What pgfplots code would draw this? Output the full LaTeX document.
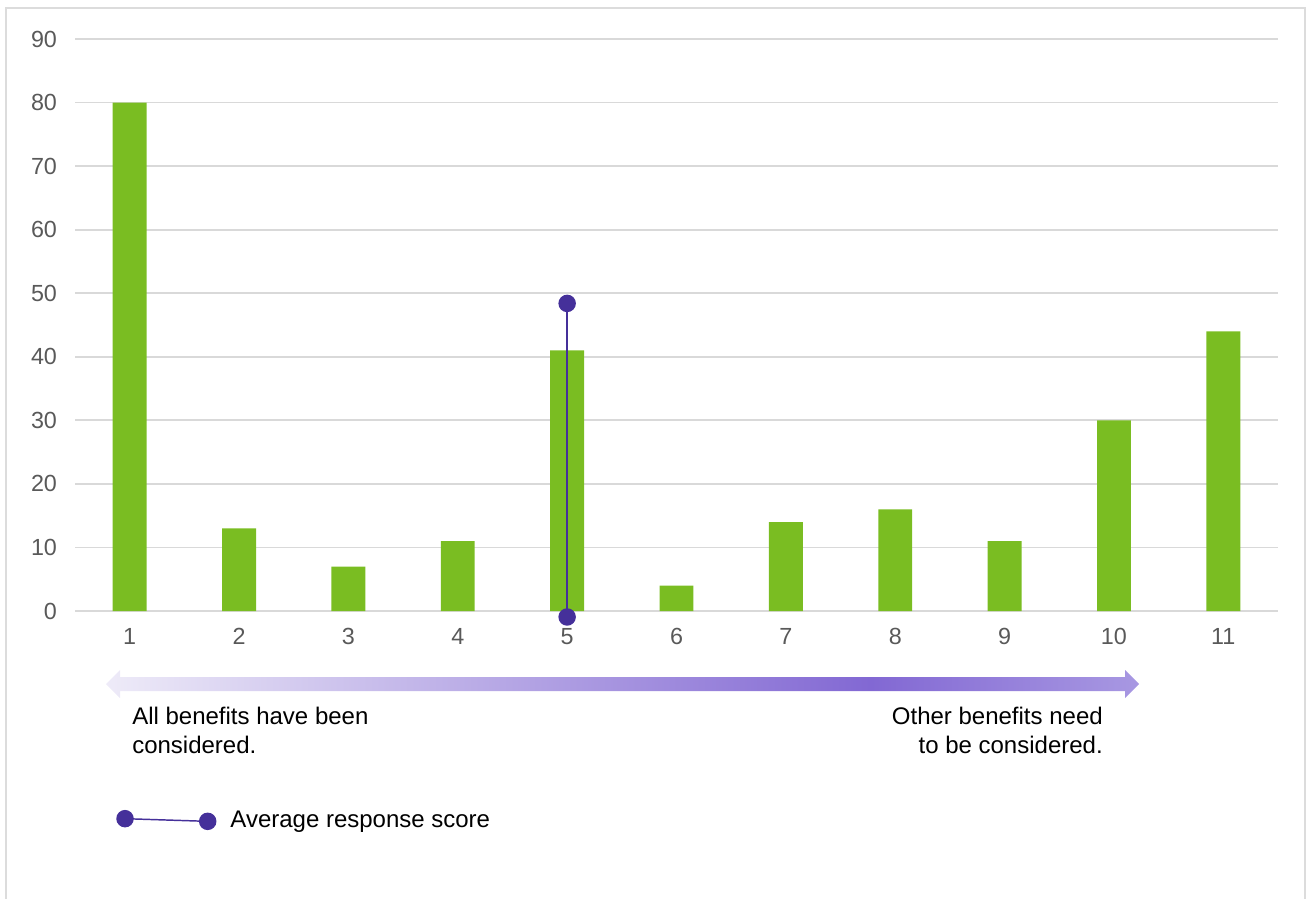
\documentclass[border=0pt]{standalone}
\usepackage{fontspec}
\setmainfont{Liberation Sans}
\usepackage{pgfplots}
\pgfplotsset{compat=1.18}

\definecolor{bargreen}{HTML}{7ABD22}
\definecolor{avgpurple}{HTML}{45309A}
\definecolor{gridgray}{HTML}{D9D9D9}
\definecolor{ticktext}{HTML}{595959}
\definecolor{framegray}{HTML}{DCDCDC}
\definecolor{arrA}{HTML}{EEEBF8}
\definecolor{arrB}{HTML}{8268D3}
\definecolor{arrC}{HTML}{A898E2}
% light on the left, deepest towards the right, paler again at the head
\pgfdeclarehorizontalshading{scaleshade}{100bp}{color(0bp)=(arrA); color(25bp)=(arrA); color(62bp)=(arrB); color(75bp)=(arrC); color(100bp)=(arrC)}

\begin{document}
\begin{tikzpicture}
% page frame and anchor point, in pixel units
\begin{scope}[x=0.75pt,y=-0.75pt]
  \path[use as bounding box] (0,0) rectangle (1306,899);
  \draw[framegray, line width=1.1pt] (6,905) -- (6,8) -- (1305,8) -- (1305,905);
  \coordinate (origin) at (75,611);
\end{scope}

\begin{axis}[
  at={(origin)}, anchor=south west,
  scale only axis, width=902.25pt, height=429pt,
  xmin=0.5, xmax=11.5, ymin=0, ymax=90,
  xtick={1,...,11}, ytick={0,10,...,90},
  axis line style={draw=none},
  major tick length=0pt,
  ymajorgrids, grid style={gridgray, line width=1.3pt},
  tick label style={font=\fontsize{17.5}{19}\selectfont, text=ticktext},
  /pgf/number format/assume math mode=true,
  yticklabel shift=10pt, xticklabel shift=9.5pt,
  bar width=0.31,
  clip=false,
  legend style={draw=none, fill=none, inner sep=0pt,
    at={(axis description cs:0.0341,-0.3654)}, anchor=west,
    font=\fontsize{18}{21.6}\selectfont,
    nodes={inner sep=0pt}, column sep=10.5pt},
  legend cell align=left,
]
\addplot[ybar, fill=bargreen, draw=none, forget plot] coordinates {
  (1,80) (2,13) (3,7) (4,11) (5,41) (6,4) (7,14) (8,16) (9,11) (10,30) (11,44)};
\addplot[avgpurple, line width=1.1pt, mark=*, mark size=6pt,
  mark options={fill=avgpurple, draw=avgpurple},
  legend image code/.code={
    \draw[avgpurple, line width=1.1pt] (0pt,1pt) -- (62pt,-1pt);
    \fill[avgpurple] (0pt,1pt) circle[radius=6pt] (62pt,-1pt) circle[radius=6pt];
  }] coordinates {(5,-0.94) (5,48.4)};
\addlegendentry{Average response score}
\end{axis}

% scale arrow and its captions
\begin{scope}[x=0.75pt,y=-0.75pt]
  \shade[shading=scaleshade] (106,684) -- (120,670) -- (120,677) -- (1125,677)
    -- (1125,670) -- (1139,684) -- (1125,698) -- (1125,691) -- (120,691)
    -- (120,698) -- cycle;
  \begin{scope}[font=\fontsize{18}{21.6}\selectfont, inner sep=0pt]
    \node[anchor=base west] at (132,724) {All benefits have been};
    \node[anchor=base west] at (132,753) {considered.};
    \node[anchor=base east] at (1103,724) {Other benefits need};
    \node[anchor=base east] at (1103,753) {to be considered.};
  \end{scope}
\end{scope}
\end{tikzpicture}
\end{document}
